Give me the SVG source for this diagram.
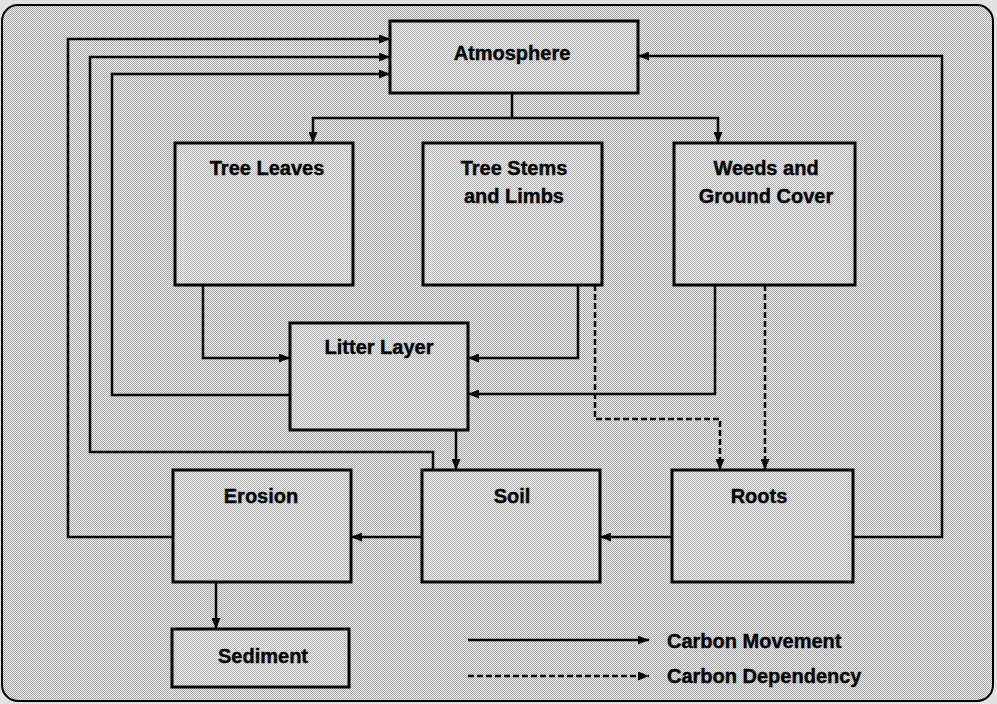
<svg xmlns="http://www.w3.org/2000/svg" width="997" height="704" viewBox="0 0 997 704">
<style>
.box{fill:url(#dots2);stroke:#000;stroke-width:3}
.t{font-family:"Liberation Sans",Arial,sans-serif;font-weight:bold;font-size:20px;fill:#000;stroke:#000;stroke-width:0.4;text-anchor:middle}
.lg{font-family:"Liberation Sans",Arial,sans-serif;font-weight:bold;font-size:20px;fill:#000;stroke:#000;stroke-width:0.4}
.c{fill:none;stroke:#000;stroke-width:2.5;marker-end:url(#ah)}
.d{stroke-dasharray:6,3}
</style>
<defs>
<pattern id="dots" width="2" height="2" patternUnits="userSpaceOnUse">
<rect width="2" height="2" fill="#ececec"/>
<rect width="1" height="1" fill="#a8a8a8"/>
<rect x="1" y="1" width="1" height="1" fill="#a8a8a8"/>
</pattern>
<pattern id="dots2" width="2" height="2" patternUnits="userSpaceOnUse">
<rect width="2" height="2" fill="#eeeeee"/>
<rect width="1" height="1" fill="#b4b4b4"/>
<rect x="1" y="1" width="1" height="1" fill="#b4b4b4"/>
</pattern>
<marker id="ah" markerUnits="userSpaceOnUse" markerWidth="11" markerHeight="9" refX="11" refY="4.5" orient="auto">
<path d="M0,0 L11,4.5 L0,9 z" fill="#000"/>
</marker>
</defs>
<rect width="997" height="704" fill="#e2e2e2"/>
<rect x="2" y="5" width="991" height="696" rx="16" fill="url(#dots)" stroke="#000" stroke-width="2"/>
<g id="connectors">
<path class="c" d="M173,537 H68 V39 H390"/>
<path class="c" d="M433,470 V452 H90 V57 H390"/>
<path class="c" d="M290,395 H112 V74 H390"/>
<path fill="none" stroke="#000" stroke-width="2.5" d="M512,93 V118 M312,118 H719"/>
<path class="c" d="M313,117 V143"/>
<path class="c" d="M718,117 V143"/>
<path class="c" d="M203,285 V358 H290"/>
<path class="c" d="M578,285 V358 H468"/>
<path class="c" d="M715,285 V394 H468"/>
<path class="c d" d="M595,285 V419 H720 V470"/>
<path class="c d" d="M765,285 V470"/>
<path class="c" d="M853,537 H942 V56 H638"/>
<path class="c" d="M456,430 V470"/>
<path class="c" d="M422,537 H351"/>
<path class="c" d="M672,537 H600"/>
<path class="c" d="M216,582 V629"/>
<path class="c" d="M468,640 H649"/>
<path class="c d" d="M468,676 H649"/>
</g>
<g id="atmosphere"><rect class="box" x="390" y="21" width="248" height="72"/><text class="t" x="512" y="60">Atmosphere</text></g>
<g id="tree-leaves"><rect class="box" x="175" y="143" width="178" height="142"/><text class="t" x="267" y="175">Tree Leaves</text></g>
<g id="tree-stems"><rect class="box" x="423" y="143" width="179" height="142"/><text class="t" x="514" y="175">Tree Stems</text><text class="t" x="514" y="203">and Limbs</text></g>
<g id="weeds"><rect class="box" x="674" y="143" width="181" height="142"/><text class="t" x="766" y="175">Weeds and</text><text class="t" x="766" y="203">Ground Cover</text></g>
<g id="litter-layer"><rect class="box" x="290" y="323" width="178" height="107"/><text class="t" x="379" y="354">Litter Layer</text></g>
<g id="erosion"><rect class="box" x="173" y="470" width="178" height="112"/><text class="t" x="261" y="503">Erosion</text></g>
<g id="soil"><rect class="box" x="422" y="470" width="178" height="112"/><text class="t" x="512" y="503">Soil</text></g>
<g id="roots"><rect class="box" x="672" y="470" width="181" height="112"/><text class="t" x="759" y="503">Roots</text></g>
<g id="sediment"><rect class="box" x="172" y="629" width="177" height="58"/><text class="t" x="263" y="663">Sediment</text></g>
<g id="legend"><text class="lg" x="667" y="648">Carbon Movement</text><text class="lg" x="667" y="683">Carbon Dependency</text></g>
</svg>
